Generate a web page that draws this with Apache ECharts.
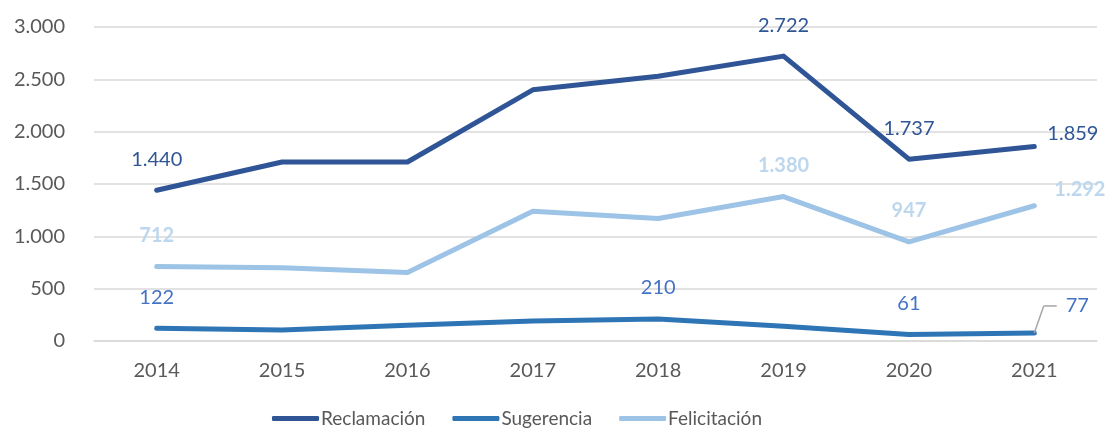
<!DOCTYPE html>
<html>
<head>
<meta charset="utf-8">
<script src="https://cdn.jsdelivr.net/npm/echarts@6/dist/echarts.min.js"></script>
<style>
  html, body { margin: 0; padding: 0; background: #fff; }
  #chart { width: 1113px; height: 436px; }
</style>
</head>
<body>
<div id="chart"></div>
<script>
// Annual counts per category
const years = ['2014', '2015', '2016', '2017', '2018', '2019', '2020', '2021'];
const reclamacion = [1440, 1710, 1710, 2400, 2530, 2722, 1737, 1859];
const sugerencia = [122, 105, 150, 190, 210, 140, 61, 77];
const felicitacion = [712, 700, 655, 1240, 1170, 1380, 947, 1292];
// Which points carry a value label
const labeledReclamacion = [0, 5, 6, 7];
const labeledSugerencia = [0, 4, 6, 7];
const labeledFelicitacion = [0, 5, 6, 7];
const yTicks = [0, 500, 1000, 1500, 2000, 2500, 3000];

const FONT = 'Lato, "Liberation Sans", sans-serif';
const GUIDE = '#A6A6A6';

function fmt(v) {
  return String(v).replace(/\B(?=(\d{3})+(?!\d))/g, '.');
}

function buildData(values, labeled, color, weight, lastItem) {
  return values.map((v, i) => {
    if (!labeled.includes(i)) return { value: v, label: { show: false }, labelLine: { show: false } };
    const lbl = {
      show: true, position: 'top', distance: 21,
      color: color, fontSize: 20, fontFamily: FONT, fontWeight: weight,
      formatter: p => fmt(p.value)
    };
    const item = { value: v, label: lbl, labelLine: { show: false } };
    if (i === values.length - 1 && lastItem) {
      if (lastItem.label) Object.assign(lbl, lastItem.label);
      if (lastItem.labelLine) item.labelLine = lastItem.labelLine;
    }
    return item;
  });
}

const chart = echarts.init(document.getElementById('chart'), null, { renderer: 'canvas' });

const option = {
  animation: false,
  grid: { left: 94, right: 16, top: 27, bottom: 95 },
  legend: {
    bottom: 3,
    left: 267,
    itemWidth: 47,
    itemHeight: 5,
    itemGap: 27,
    icon: 'roundRect',
    textStyle: { color: '#595959', fontSize: 19, fontFamily: FONT, padding: [0, 0, 0, -3] },
    data: ['Reclamación', 'Sugerencia', 'Felicitación']
  },
  xAxis: {
    type: 'category',
    data: years,
    boundaryGap: true,
    axisLine: { lineStyle: { color: '#D9D9D9', width: 1.5 } },
    axisTick: { show: false },
    axisLabel: { color: '#595959', fontSize: 20, fontFamily: FONT, margin: 20 }
  },
  yAxis: {
    type: 'value',
    min: yTicks[0],
    max: yTicks[yTicks.length - 1],
    interval: 500,
    axisLine: { show: false },
    axisTick: { show: false },
    splitLine: { lineStyle: { color: '#D9D9D9', width: 1.5 } },
    axisLabel: { color: '#595959', fontSize: 20, fontFamily: FONT, margin: 29, formatter: v => fmt(v) }
  },
  series: [
    {
      name: 'Reclamación', type: 'line', symbol: 'circle', symbolSize: 0,
      lineStyle: { width: 5, color: '#2F5597', cap: 'round', join: 'round' },
      itemStyle: { color: '#2F5597' },
      data: buildData(reclamacion, labeledReclamacion, '#2F5597', 'normal',
        { label: { position: 'right', distance: 13, offset: [0, -13] } }),
      z: 3
    },
    {
      name: 'Sugerencia', type: 'line', symbol: 'circle', symbolSize: 0,
      lineStyle: { width: 5, color: '#2E75B6', cap: 'round', join: 'round' },
      itemStyle: { color: '#2E75B6' },
      data: buildData(sugerencia, labeledSugerencia, '#4472C4', 'normal', {
        // last label sits off to the right, tied back by an elbow leader
        label: {
          distance: 19,
          lineHeight: 2,
          formatter: p => '{l|}{s|}{v|' + fmt(p.value) + '}',
          rich: {
            l: { width: 13, height: 1.5, lineHeight: 2, backgroundColor: GUIDE },
            s: { width: 9, lineHeight: 2 },
            v: { color: '#4472C4', fontSize: 20, fontFamily: FONT, lineHeight: 2 }
          }
        },
        labelLine: { show: true, smooth: false, lineStyle: { color: GUIDE, width: 1.5 } }
      }),
      labelLayout: function (p) {
        if (p.dataIndex === sugerencia.length - 1) {
          return { dx: 32, dy: -7 };
        }
        return {};
      },
      z: 2
    },
    {
      name: 'Felicitación', type: 'line', symbol: 'circle', symbolSize: 0,
      lineStyle: { width: 5, color: '#9DC3E6', cap: 'round', join: 'round' },
      itemStyle: { color: '#9DC3E6' },
      data: buildData(felicitacion, labeledFelicitacion, '#BDD7EE', 'bold',
        { label: { position: 'right', distance: 20, offset: [0, -16] } }),
      z: 1
    }
  ]
};

chart.setOption(option);
</script>
</body>
</html>
